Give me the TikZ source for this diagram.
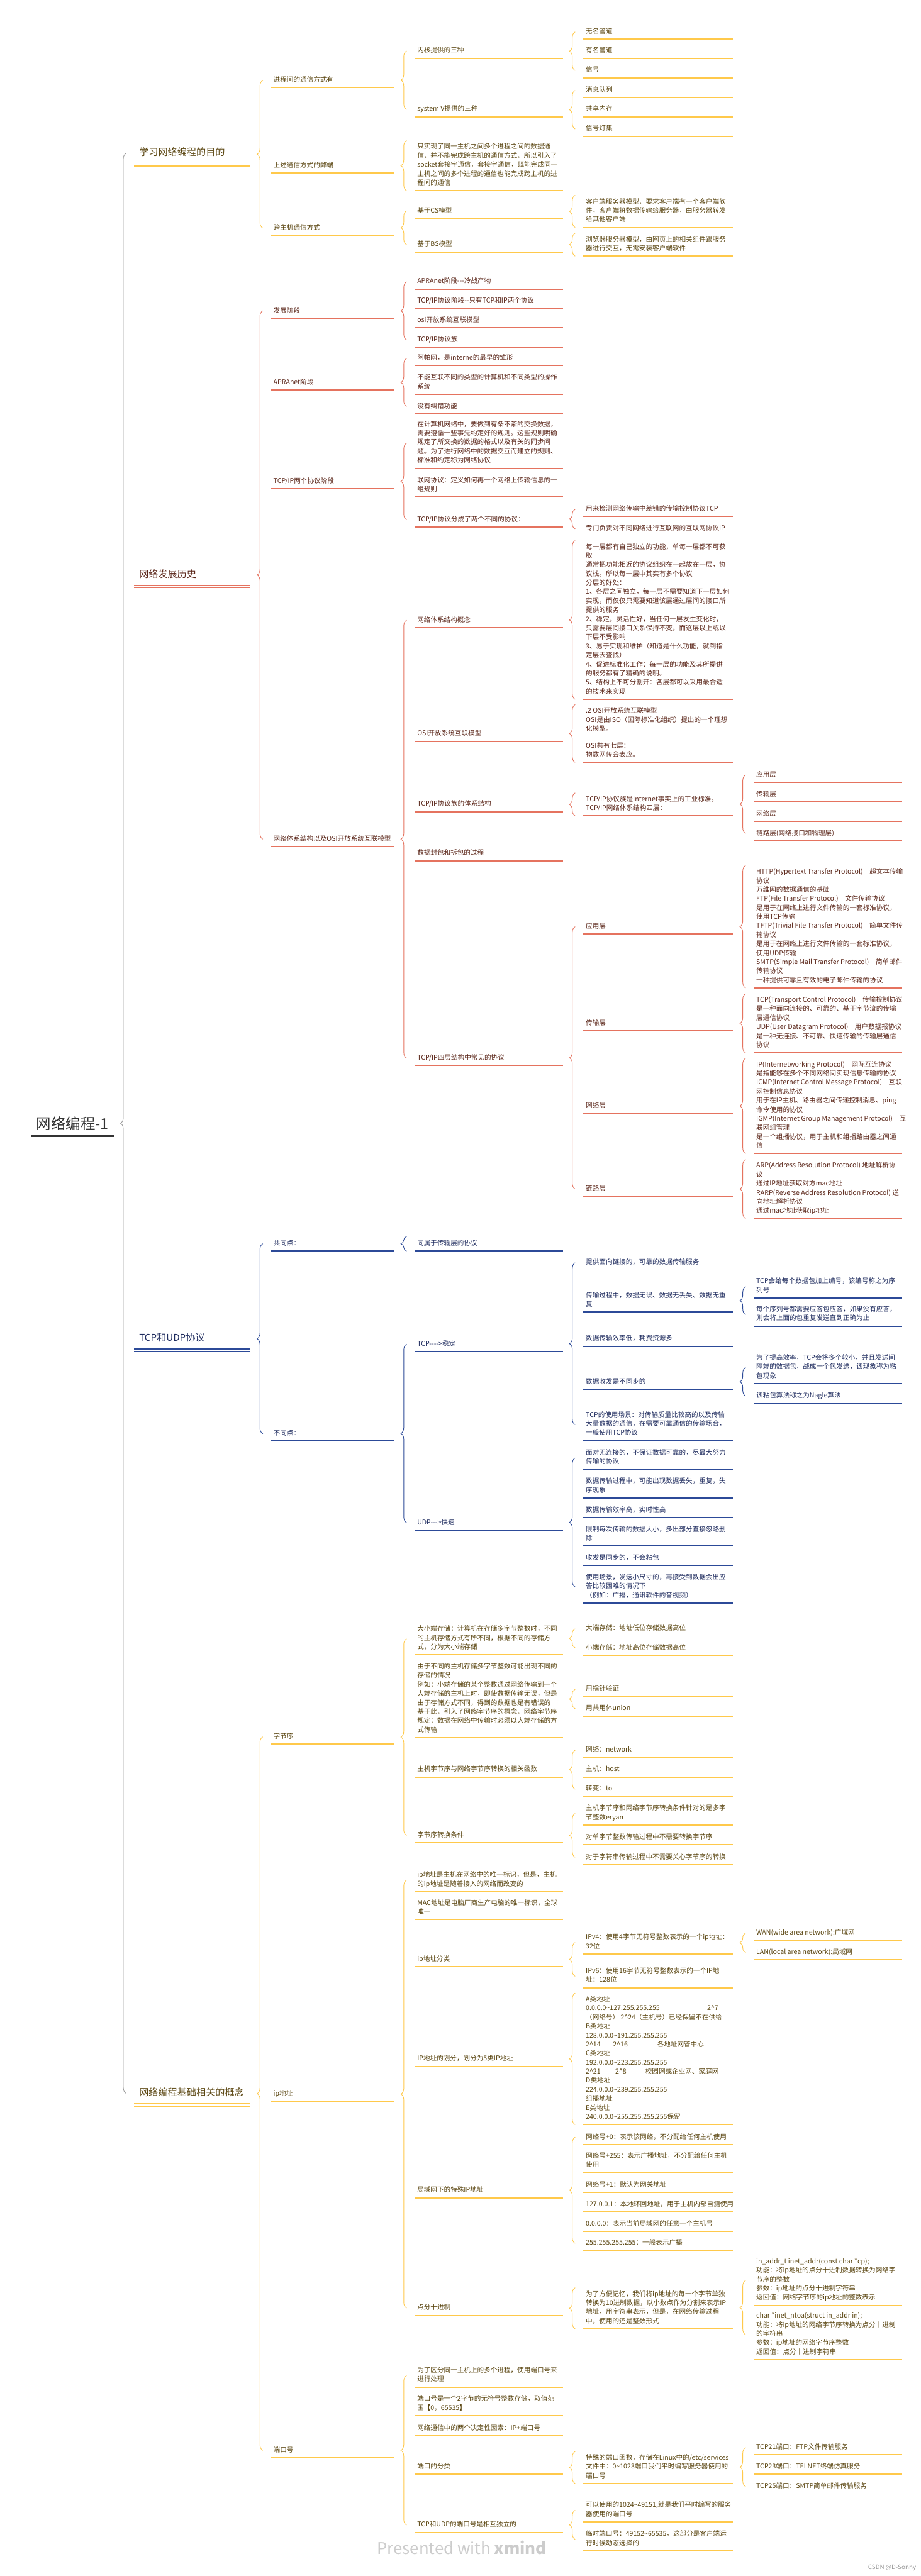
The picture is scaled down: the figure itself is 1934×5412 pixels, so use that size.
\documentclass[tikz,border=0pt]{standalone}
\usepackage{fontspec}
\setmainfont{Noto Sans CJK SC}
\usetikzlibrary{decorations.pathreplacing}
\definecolor{gold}{HTML}{FFC94B}
\definecolor{goldink}{HTML}{5A4510}
\definecolor{coral}{HTML}{E5735F}
\definecolor{coralink}{HTML}{5B2619}
\definecolor{navy}{HTML}{2C4A98}
\definecolor{navyink}{HTML}{1E2B5E}
\definecolor{rootink}{HTML}{333333}
\newcommand\hy{-\kern0pt}

\begin{document}
\begin{tikzpicture}[x=0.5pt,y=-0.5pt,
  topic/.style={anchor=west,inner xsep=2.5pt,inner ysep=2.75pt,align=left,text=brink,
    font=\fontsize{7}{9.5}\selectfont,execute at begin node=\strut,execute at end node=\strut},
  uline/.style={draw=brline,line width=1.2pt},
  t1/.style={anchor=west,inner xsep=5pt,inner ysep=5.75pt,align=left,text=brink,
    font=\fontsize{10}{12.5}\selectfont,execute at begin node=\strut,execute at end node=\strut,
    append after command={(\tikzlastnode.south west) edge[draw=brline,line width=1pt,double=white,double distance=1.5pt] +(242,0)}},
  t2/.style={topic,append after command={(\tikzlastnode.south west) edge[uline] +(259,0)}},
  t3/.style={topic,append after command={(\tikzlastnode.south west) edge[uline] +(311,0)}},
  t4/.style={topic,append after command={(\tikzlastnode.south west) edge[uline] +(314,0)}},
  t5/.style={topic,append after command={(\tikzlastnode.south west) edge[uline] +(312,0)}},
  brc/.style={draw=brline,line width=0.6pt,decorate,decoration={brace,amplitude=6pt}}]

  \path[use as bounding box,fill=white] (0,0) rectangle (1934,5412);

  \node[anchor=west,inner xsep=5pt,inner ysep=6pt,text=rootink,font=\fontsize{15.5}{18}\selectfont]
    (root) at (66,2360) {网络编程-1};
  \draw[rootink,line width=2pt] (root.south west) -- (root.south east);
  \draw[black!40,line width=0.6pt,decorate,decoration={brace,amplitude=6pt}]
    (265,4398) -- (265,322);

  % branch one
  \begin{scope}
  \colorlet{brline}{gold}\colorlet{brink}{goldink}
  \node[t1] (a) at (282,322) {学习网络编程的目的};
  \node[t2] (a1) at (569,169) {进程间的通信方式有};
  \node[t2] (a2) at (569,348) {上述通信方式的弊端};
  \node[t2] (a3) at (569,479) {跨主机通信方式};
  \node[t3] (a11) at (871,107) {内核提供的三种};
  \node[t3] (a12) at (871,230) {system V提供的三种};
  \node[t4] (a111) at (1225,67) {无名管道};
  \node[t4] (a112) at (1225,107) {有名管道};
  \node[t4] (a113) at (1225,148) {信号};
  \node[t4] (a121) at (1225,190) {消息队列};
  \node[t4] (a122) at (1225,230) {共享内存};
  \node[t4] (a123) at (1225,271) {信号灯集};
  \node[t3] (a21) at (871,348) {只实现了同一主机之间多个进程之间的数据通\\信，并不能完成跨主机的通信方式，所以引入了\\socket套接字通信，套接字通信，既能完成同一\\主机之间的多个进程的通信也能完成跨主机的进\\程间的通信};
  \node[t3] (a31) at (871,443) {基于CS模型};
  \node[t3] (a32) at (871,514) {基于BS模型};
  \node[t4] (a311) at (1225,444) {客户端服务器模型，要求客户端有一个客户端软\\件，客户端将数据传输给服务器，由服务器转发\\给其他客户端};
  \node[t4] (a321) at (1225,514) {浏览器服务器模型，由网页上的相关组件跟服务\\器进行交互，无需安装客户端软件};
  \draw[brc] ([xshift=-8.5pt]a3.west) -- ([xshift=-8.5pt]a1.west);
  \draw[brc] ([xshift=-8.5pt]a12.west) -- ([xshift=-8.5pt]a11.west);
  \draw[brc] ([xshift=-8.5pt]a113.west) -- ([xshift=-8.5pt]a111.west);
  \draw[brc] ([xshift=-8.5pt]a123.west) -- ([xshift=-8.5pt]a121.west);
  \draw[brc] ([xshift=-8.5pt]a21.south west) -- ([xshift=-8.5pt]a21.north west);
  \draw[brc] ([xshift=-8.5pt]a32.west) -- ([xshift=-8.5pt]a31.west);
  \draw[brc] ([xshift=-8.5pt]a311.south west) -- ([xshift=-8.5pt]a311.north west);
  \draw[brc] ([xshift=-8.5pt]a321.south west) -- ([xshift=-8.5pt]a321.north west);
  \end{scope}

  % branch two
  \begin{scope}
  \colorlet{brline}{coral}\colorlet{brink}{coralink}
  \node[t1] (b) at (282,1208) {网络发展历史};
  \node[t2] (b1) at (569,653) {发展阶段};
  \node[t2] (b2) at (569,804) {APRAnet阶段};
  \node[t2] (b3) at (569,1011) {TCP/IP两个协议阶段};
  \node[t2] (b4) at (569,1763) {网络体系结构以及OSI开放系统互联模型};
  \node[t3] (b11) at (871,592) {APRAnet阶段\hy\hy\hy 冷战产物};
  \node[t3] (b12) at (871,633) {TCP/IP协议阶段\hy\hy 只有TCP和IP两个协议};
  \node[t3] (b13) at (871,673) {osi开放系统互联模型};
  \node[t3] (b14) at (871,714) {TCP/IP协议族};
  \node[t3] (b21) at (871,753) {阿帕网，是interne的最早的雏形};
  \node[t3] (b22) at (871,804) {不能互联不同的类型的计算机和不同类型的操作\\系统};
  \node[t3] (b23) at (871,854) {没有纠错功能};
  \node[t3] (b31) at (871,931) {在计算机网络中，要做到有条不紊的交换数据，\\需要遵循一些事先约定好的规则。这些规则明确\\规定了所交换的数据的格式以及有关的同步问\\题。为了进行网络中的数据交互而建立的规则、\\标准和约定称为网络协议};
  \node[t3] (b32) at (871,1020) {联网协议：定义如何再一个网络上传输信息的一\\组规则};
  \node[t3] (b33) at (871,1092) {TCP/IP协议分成了两个不同的协议：};
  \node[t4] (b331) at (1225,1070) {用来检测网络传输中差错的传输控制协议TCP};
  \node[t4] (b332) at (1225,1111) {专门负责对不同网络进行互联网的互联网协议IP};
  \node[t3] (b41) at (871,1303) {网络体系结构概念};
  \node[t3] (b42) at (871,1542) {OSI开放系统互联模型};
  \node[t3] (b43) at (871,1690) {TCP/IP协议族的体系结构};
  \node[t3] (b44) at (871,1793) {数据封包和拆包的过程};
  \node[t3] (b45) at (871,2223) {TCP/IP四层结构中常见的协议};
  \node[t4] (b411) at (1225,1302.5) {每一层都有自己独立的功能，单每一层都不可获\\取\\通常把功能相近的协议组织在一起放在一层，协\\议栈。所以每一层中其实有多个协议\\分层的好处：\\1、各层之间独立，每一层不需要知道下一层如何\\实现，而仅仅只需要知道该层通过层间的接口所\\提供的服务\\2、稳定，灵活性好，当任何一层发生变化时，\\只需要层间接口关系保持不变，而这层以上或以\\下层不受影响\\3、易于实现和维护（知道是什么功能，就到指\\定层去查找）\\4、促进标准化工作：每一层的功能及其所提供\\的服务都有了精确的说明。\\5、结构上不可分割开：各层都可以采用最合适\\的技术来实现};
  \node[t4] (b421) at (1225,1541) {.2 OSI开放系统互联模型\\OSI是由ISO（国际标准化组织）提出的一个理想\\化模型。\\[8pt]OSI共有七层：\\物数网传会表应。};
  \node[t4] (b431) at (1225,1690) {TCP/IP协议族是Internet事实上的工业标准。\\TCP/IP网络体系结构四层：};
  \node[t5] (b4311) at (1583,1628) {应用层};
  \node[t5] (b4312) at (1583,1669) {传输层};
  \node[t5] (b4313) at (1583,1710) {网络层};
  \node[t5] (b4314) at (1583,1751) {链路层(网络接口和物理层)};
  \node[t4] (b451) at (1225,1947) {应用层};
  \node[t4] (b452) at (1225,2150) {传输层};
  \node[t4] (b453) at (1225,2324) {网络层};
  \node[t4] (b454) at (1225,2498) {链路层};
  \node[t5] (b4511) at (1583,1947) {HTTP(Hypertext Transfer Protocol)\quad 超文本传输\\协议\\万维网的数据通信的基础\\FTP(File Transfer Protocol)\quad 文件传输协议\\是用于在网络上进行文件传输的一套标准协议，\\使用TCP传输\\TFTP(Trivial File Transfer Protocol)\quad 简单文件传\\输协议\\是用于在网络上进行文件传输的一套标准协议，\\使用UDP传输\\SMTP(Simple Mail Transfer Protocol)\quad 简单邮件\\传输协议\\一种提供可靠且有效的电子邮件传输的协议};
  \node[t5] (b4521) at (1583,2150) {TCP(Transport Control Protocol)\quad 传输控制协议\\是一种面向连接的、可靠的、基于字节流的传输\\层通信协议\\UDP(User Datagram Protocol)\quad 用户数据报协议\\是一种无连接、不可靠、快速传输的传输层通信\\协议};
  \node[t5] (b4531) at (1583,2323.5) {IP(Internetworking Protocol)\quad 网际互连协议\\是指能够在多个不同网络间实现信息传输的协议\\ICMP(Internet Control Message Protocol)\quad 互联\\网控制信息协议\\用于在IP主机、路由器之间传递控制消息、ping\\命令使用的协议\\IGMP(Internet Group Management Protocol)\quad 互\\联网组管理\\是一个组播协议，用于主机和组播路由器之间通\\信};
  \node[t5] (b4541) at (1583,2498) {ARP(Address Resolution Protocol) 地址解析协\\议\\通过IP地址获取对方mac地址\\RARP(Reverse Address Resolution Protocol) 逆\\向地址解析协议\\通过mac地址获取ip地址};
  \draw[brc] ([xshift=-8.5pt]b4.west) -- ([xshift=-8.5pt]b1.west);
  \draw[brc] ([xshift=-8.5pt]b14.west) -- ([xshift=-8.5pt]b11.west);
  \draw[brc] ([xshift=-8.5pt]b23.west) -- ([xshift=-8.5pt]b21.west);
  \draw[brc] ([xshift=-8.5pt]b33.west) -- ([xshift=-8.5pt]b31.west);
  \draw[brc] ([xshift=-8.5pt]b332.west) -- ([xshift=-8.5pt]b331.west);
  \draw[brc] ([xshift=-8.5pt]b45.west) -- ([xshift=-8.5pt]b41.west);
  \draw[brc] ([xshift=-8.5pt]b411.south west) -- ([xshift=-8.5pt]b411.north west);
  \draw[brc] ([xshift=-8.5pt]b421.south west) -- ([xshift=-8.5pt]b421.north west);
  \draw[brc] ([xshift=-8.5pt]b431.south west) -- ([xshift=-8.5pt]b431.north west);
  \draw[brc] ([xshift=-8.5pt]b4314.west) -- ([xshift=-8.5pt]b4311.west);
  \draw[brc] ([xshift=-8.5pt]b454.west) -- ([xshift=-8.5pt]b451.west);
  \draw[brc] ([xshift=-8.5pt]b4511.south west) -- ([xshift=-8.5pt]b4511.north west);
  \draw[brc] ([xshift=-8.5pt]b4521.south west) -- ([xshift=-8.5pt]b4521.north west);
  \draw[brc] ([xshift=-8.5pt]b4531.south west) -- ([xshift=-8.5pt]b4531.north west);
  \draw[brc] ([xshift=-8.5pt]b4541.south west) -- ([xshift=-8.5pt]b4541.north west);
  \end{scope}

  % branch three
  \begin{scope}
  \colorlet{brline}{navy}\colorlet{brink}{navyink}
  \node[t1] (c) at (282,2812) {TCP和UDP协议};
  \node[t2] (c1) at (569,2613) {共同点：};
  \node[t2] (c2) at (569,3012) {不同点：};
  \node[t3] (c11) at (871,2613) {同属于传输层的协议};
  \node[t3] (c21) at (871,2824) {TCP\hy\hy\hy\hy>稳定};
  \node[t3] (c22) at (871,3199) {UDP\hy\hy\hy>快速};
  \node[t4] (c211) at (1225,2653) {提供面向链接的，可靠的数据传输服务};
  \node[t4] (c212) at (1225,2732.5) {传输过程中，数据无误、数据无丢失、数据无重\\复};
  \node[t4] (c213) at (1225,2813) {数据传输效率低，耗费资源多};
  \node[t4] (c214) at (1225,2903) {数据收发是不同步的};
  \node[t4] (c215) at (1225,2993) {TCP的使用场景：对传输质量比较高的以及传输\\大量数据的通信，在需要可靠通信的传输场合，\\一般使用TCP协议};
  \node[t5] (c2121) at (1583,2703) {TCP会给每个数据包加上编号，该编号称之为序\\列号};
  \node[t5] (c2122) at (1583,2762) {每个序列号都需要应答包应答，如果没有应答，\\则会将上面的包重复发送直到正确为止};
  \node[t5] (c2141) at (1583,2873) {为了提高效率，TCP会将多个较小，并且发送间\\隔端的数据包，战成一个包发送，该现象称为粘\\包现象};
  \node[t5] (c2142) at (1583,2933) {该粘包算法称之为Nagle算法};
  \node[t4] (c221) at (1225,3063) {面对无连接的，不保证数据可靠的，尽最大努力\\传输的协议};
  \node[t4] (c222) at (1225,3123) {数据传输过程中，可能出现数据丢失，重复，失\\序现象};
  \node[t4] (c223) at (1225,3173) {数据传输效率高，实时性高};
  \node[t4] (c224) at (1225,3224) {限制每次传输的数据大小，多出部分直接忽略删\\除};
  \node[t4] (c225) at (1225,3274) {收发是同步的，不会粘包};
  \node[t4] (c226) at (1225,3334) {使用场景，发送小尺寸的，再接受到数据会出应\\答比较困难的情况下\\（例如：广播，通讯软件的音视频）};
  \draw[brc] ([xshift=-8.5pt]c2.west) -- ([xshift=-8.5pt]c1.west);
  \draw[brc] ([xshift=-8.5pt]c11.south west) -- ([xshift=-8.5pt]c11.north west);
  \draw[brc] ([xshift=-8.5pt]c22.west) -- ([xshift=-8.5pt]c21.west);
  \draw[brc] ([xshift=-8.5pt]c215.west) -- ([xshift=-8.5pt]c211.west);
  \draw[brc] ([xshift=-8.5pt]c2122.west) -- ([xshift=-8.5pt]c2121.west);
  \draw[brc] ([xshift=-8.5pt]c2142.west) -- ([xshift=-8.5pt]c2141.west);
  \draw[brc] ([xshift=-8.5pt]c226.west) -- ([xshift=-8.5pt]c221.west);
  \end{scope}

  % branch four
  \begin{scope}
  \colorlet{brline}{gold}\colorlet{brink}{goldink}
  \node[t1] (d) at (282,4398) {网络编程基础相关的概念};
  \node[t2] (d1) at (569,3649) {字节序};
  \node[t2] (d2) at (569,4399) {ip地址};
  \node[t2] (d3) at (569,5148) {端口号};
  \node[t3] (d11) at (871,3443) {大小端存储：计算机在存储多字节整数时，不同\\的主机存储方式有所不同，根据不同的存储方\\式，分为大小端存储};
  \node[t3] (d12) at (871,3569.5) {由于不同的主机存储多字节整数可能出现不同的\\存储的情况\\例如：小端存储的某个整数通过网络传输到一个\\大端存储的主机上时，即使数据传输无误，但是\\由于存储方式不同，得到的数据也是有错误的\\基于此，引入了网络字节序的概念，网络字节序\\规定：数据在网络中传输时必须以大端存储的方\\式传输};
  \node[t3] (d13) at (871,3718) {主机字节序与网络字节序转换的相关函数};
  \node[t3] (d14) at (871,3856) {字节序转换条件};
  \node[t4] (d111) at (1225,3422) {大端存储：地址低位存储数据高位};
  \node[t4] (d112) at (1225,3462) {小端存储：地址高位存储数据高位};
  \node[t4] (d121) at (1225,3549) {用指针验证};
  \node[t4] (d122) at (1225,3590) {用共用体union};
  \node[t4] (d131) at (1225,3677) {网络：network};
  \node[t4] (d132) at (1225,3718) {主机：host};
  \node[t4] (d133) at (1225,3759) {转变：to};
  \node[t4] (d141) at (1225,3810) {主机字节序和网络字节序转换条件针对的是多字\\节整数eryan};
  \node[t4] (d142) at (1225,3860) {对单字节整数传输过程中不需要转换字节序};
  \node[t4] (d143) at (1225,3902) {对于字符串传输过程中不需要关心字节序的转换};
  \node[t3] (d21) at (871,3950) {ip地址是主机在网络中的唯一标识，但是，主机\\的ip地址是随着接入的网络而改变的};
  \node[t3] (d22) at (871,4009) {MAC地址是电脑厂商生产电脑的唯一标识，全球\\唯一};
  \node[t3] (d23) at (871,4116) {ip地址分类};
  \node[t3] (d24) at (871,4326) {IP地址的划分，划分为5类IP地址};
  \node[t3] (d25) at (871,4602) {局域网下的特殊IP地址};
  \node[t3] (d26) at (871,4849) {点分十进制};
  \node[t4] (d231) at (1225,4081) {IPv4：使用4字节无符号整数表示的一个ip地址：\\32位};
  \node[t4] (d232) at (1225,4152) {IPv6：使用16字节无符号整数表示的一个IP地\\址：128位};
  \node[t5] (d2311) at (1583,4061) {WAN(wide area network):广域网};
  \node[t5] (d2312) at (1583,4102) {LAN(local area network):局域网};
  \node[t4] (d241) at (1225,4325.5) {A类地址\\\makebox[127.5pt][l]{0.0.0.0\textasciitilde127.255.255.255}2\textasciicircum7\\（网络号） 2\textasciicircum24（主机号）已经保留不在供给\\B类地址\\128.0.0.0\textasciitilde191.255.255.255\\\makebox[28.5pt][l]{2\textasciicircum14}\makebox[46.5pt][l]{2\textasciicircum16}各地址网管中心\\C类地址\\192.0.0.0\textasciitilde223.255.255.255\\\makebox[31pt][l]{2\textasciicircum21}\makebox[31.5pt][l]{2\textasciicircum8}校园网或企业网、家庭网\\D类地址\\224.0.0.0\textasciitilde239.255.255.255\\组播地址\\E类地址\\240.0.0.0\textasciitilde255.255.255.255保留};
  \node[t4] (d251) at (1225,4490) {网络号+0：表示该网络，不分配给任何主机使用};
  \node[t4] (d252) at (1225,4540) {网络号+255：表示广播地址，不分配给任何主机\\使用};
  \node[t4] (d253) at (1225,4591) {网络号+1：默认为网关地址};
  \node[t4] (d254) at (1225,4632) {127.0.0.1：本地环回地址，用于主机内部自测使用};
  \node[t4] (d255) at (1225,4673) {0.0.0.0：表示当前局域网的任意一个主机号};
  \node[t4] (d256) at (1225,4713) {255.255.255.255：一般表示广播};
  \node[t4] (d261) at (1225,4849.5) {为了方便记忆，我们将ip地址的每一个字节单独\\转换为10进制数据，以小数点作为分割来表示IP\\地址，用字符串表示，但是，在网络传输过程\\中，使用的还是整数形式};
  \node[t5] (d2611) at (1583,4791) {in\_addr\_t inet\_addr(const char *cp);\\功能：将ip地址的点分十进制数据转换为网络字\\节序的整数\\参数：ip地址的点分十进制字符串\\返回值：网络字节序的ip地址的整数表示};
  \node[t5] (d2612) at (1583,4905) {char *inet\_ntoa(struct in\_addr in);\\功能：将ip地址的网络字节序转换为点分十进制\\的字符串\\参数：ip地址的网络字节序整数\\返回值：点分十进制字符串};
  \node[t3] (d31) at (871,4991) {为了区分同一主机上的多个进程，使用端口号来\\进行处理};
  \node[t3] (d32) at (871,5051) {端口号是一个2字节的无符号整数存储，取值范\\围【0，65535】};
  \node[t3] (d33) at (871,5102) {网络通信中的两个决定性因素：IP+端口号};
  \node[t3] (d34) at (871,5183) {端口的分类};
  \node[t3] (d35) at (871,5305) {TCP和UDP的端口号是相互独立的};
  \node[t4] (d341) at (1225,5184) {特殊的端口函数，存储在Linux中的/etc/services\\文件中：0\textasciitilde1023端口我们平时编写服务器使用的\\端口号};
  \node[t5] (d3411) at (1583,5142) {TCP21端口：FTP文件传输服务};
  \node[t5] (d3412) at (1583,5183) {TCP23端口：TELNET终端仿真服务};
  \node[t5] (d3413) at (1583,5224) {TCP25端口：SMTP简单邮件传输服务};
  \node[t4] (d351) at (1225,5274) {可以使用的1024\textasciitilde49151,就是我们平时编写的服务\\器使用的端口号};
  \node[t4] (d352) at (1225,5335) {临时端口号：49152\textasciitilde65535，这部分是客户端运\\行时候动态选择的};
  \draw[brc] ([xshift=-8.5pt]d3.west) -- ([xshift=-8.5pt]d1.west);
  \draw[brc] ([xshift=-8.5pt]d14.west) -- ([xshift=-8.5pt]d11.west);
  \draw[brc] ([xshift=-8.5pt]d112.west) -- ([xshift=-8.5pt]d111.west);
  \draw[brc] ([xshift=-8.5pt]d122.west) -- ([xshift=-8.5pt]d121.west);
  \draw[brc] ([xshift=-8.5pt]d133.west) -- ([xshift=-8.5pt]d131.west);
  \draw[brc] ([xshift=-8.5pt]d143.west) -- ([xshift=-8.5pt]d141.west);
  \draw[brc] ([xshift=-8.5pt]d26.west) -- ([xshift=-8.5pt]d21.west);
  \draw[brc] ([xshift=-8.5pt]d232.west) -- ([xshift=-8.5pt]d231.west);
  \draw[brc] ([xshift=-8.5pt]d2312.west) -- ([xshift=-8.5pt]d2311.west);
  \draw[brc] ([xshift=-8.5pt]d241.south west) -- ([xshift=-8.5pt]d241.north west);
  \draw[brc] ([xshift=-8.5pt]d256.west) -- ([xshift=-8.5pt]d251.west);
  \draw[brc] ([xshift=-8.5pt]d261.south west) -- ([xshift=-8.5pt]d261.north west);
  \draw[brc] ([xshift=-8.5pt]d2612.west) -- ([xshift=-8.5pt]d2611.west);
  \draw[brc] ([xshift=-8.5pt]d35.west) -- ([xshift=-8.5pt]d31.west);
  \draw[brc] ([xshift=-8.5pt]d341.south west) -- ([xshift=-8.5pt]d341.north west);
  \draw[brc] ([xshift=-8.5pt]d3413.west) -- ([xshift=-8.5pt]d3411.west);
  \draw[brc] ([xshift=-8.5pt]d352.west) -- ([xshift=-8.5pt]d351.west);
  \end{scope}

  \node[text=black!20,font=\fontsize{17}{20}\selectfont] (mark) at (970,5353) {Presented with \textbf{xmind}};
  \node[anchor=east,text=black!40,font=\fontsize{6.5}{8}\selectfont] (csdn) at (1931,5395) {CSDN @D-Sonny};
\end{tikzpicture}
\end{document}
